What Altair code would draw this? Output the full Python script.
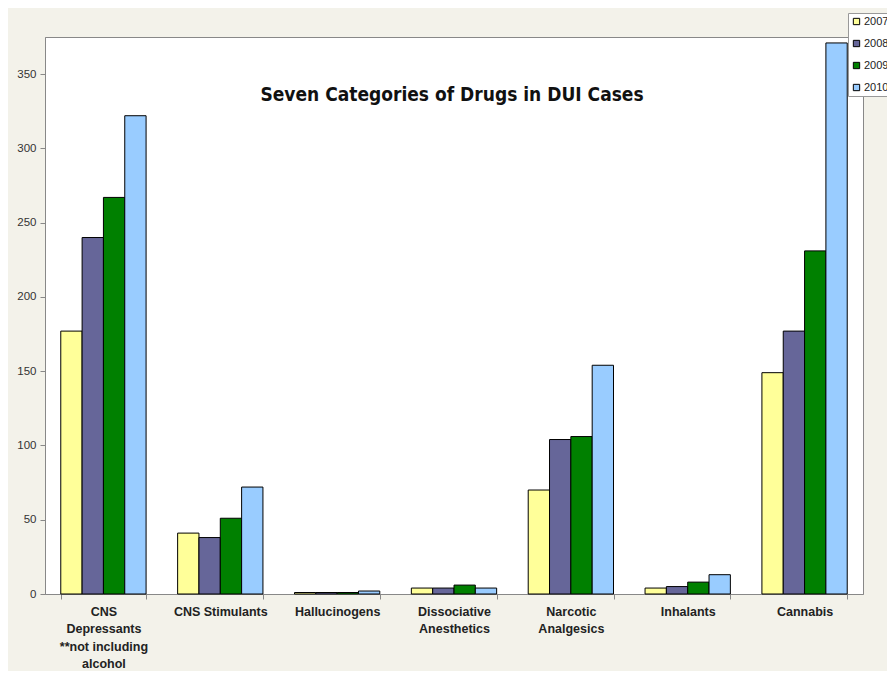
import altair as alt
import pandas as pd

categories = ["CNS Depressants|**not including|alcohol", "CNS Stimulants", "Hallucinogens",
              "Dissociative|Anesthetics", "Narcotic|Analgesics", "Inhalants", "Cannabis"]
years = ["2007", "2008", "2009", "2010"]
v2007 = [177, 41, 1, 4, 70, 4, 149]
v2008 = [240, 38, 1, 4, 104, 5, 177]
v2009 = [267, 51, 1, 6, 106, 8, 231]
v2010 = [322, 72, 2, 4, 154, 13, 371]
colors = ["#FFFF99", "#666699", "#008000", "#99CCFF"]
title_text = "Seven Categories of Drugs in DUI Cases"

rows = []
for y, vals in zip(years, [v2007, v2008, v2009, v2010]):
    for c, v in zip(categories, vals):
        rows.append({"category": c, "year": y, "value": v})
df = pd.DataFrame(rows)

label_expr = ("datum.label == 'CNS Depressants|**not including|alcohol' ? "
              "['CNS', 'Depressants', '**not including', 'alcohol'] : split(datum.label, '|')")

bars = alt.Chart(df).mark_bar(stroke="black", strokeWidth=1).encode(
    x=alt.X("category:N", sort=categories, title=None,
            scale=alt.Scale(paddingInner=0.27, paddingOuter=0.135),
            axis=alt.Axis(labelAngle=0, labelExpr=label_expr, labelFont="Liberation Sans, Arial",
                          labelFontWeight="bold", labelFontSize=12.5, labelColor="#222",
                          labelLineHeight=17.5, labelPadding=6, tickBand="extent",
                          tickSize=5, tickColor="#888", domainColor="#888", labelLimit=200)),
    xOffset=alt.XOffset("year:N", sort=years),
    y=alt.Y("value:Q", title=None,
            scale=alt.Scale(domain=[0, 375], nice=False),
            axis=alt.Axis(values=[0, 50, 100, 150, 200, 250, 300, 350], grid=False,
                          labelFont="Liberation Sans, Arial", labelFontSize=11.5,
                          labelColor="#333", tickSize=5, tickColor="#888",
                          domainColor="#888", labelPadding=4)),
    color=alt.Color("year:N", sort=years,
                    scale=alt.Scale(domain=years, range=colors),
                    legend=alt.Legend(title=None, orient="none", legendX=803, legendY=-24,
                                      symbolType="square", symbolSize=40,
                                      symbolStrokeColor="black", symbolStrokeWidth=1,
                                      labelFontSize=11, labelFont="Liberation Sans, Arial",
                                      labelColor="#222", rowPadding=10,
                                      fillColor="white", strokeColor="#999",
                                      padding=3, labelOffset=2)),
)

title_df = pd.DataFrame({"t": [title_text]})
title = alt.Chart(title_df).mark_text(
    font="DejaVu Sans Condensed, Liberation Sans Narrow, sans-serif",
    fontWeight="bold", fontSize=19, color="#111", baseline="middle", align="center"
).encode(text="t:N", x=alt.value(407), y=alt.value(58))

chart = alt.layer(bars, title).properties(
    width=818, height=557,
    padding={"left": 37, "top": 29, "right": 24, "bottom": 77},
    autosize=alt.AutoSizeParams(type="none"),
    background="#F3F2EA",
).configure_view(fill="white", stroke="#888", strokeWidth=1)

chart.save("out.html", embed_options={"renderer": "svg", "actions": False})
